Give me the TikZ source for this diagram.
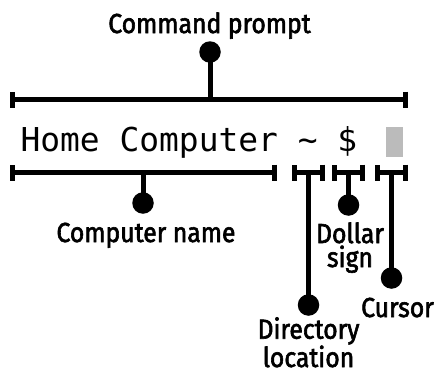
\documentclass[tikz,border=0pt]{standalone}
\usepackage{fontspec}
\setmainfont{Fira Sans}[FakeStretch=0.9, FakeBold=2.2]
\newfontfamily\promptfont{DejaVu Sans Mono}
\usetikzlibrary{arrows.meta}
\definecolor{cursorgray}{RGB}{187,187,187}
\begin{document}
\begin{tikzpicture}[x=1pt,y=-1pt, line width=5pt,
  brace/.style={draw, {Bar[width=16pt]}-{Bar[width=16pt]}},
  dot/.style={circle, fill=black, inner sep=0pt, minimum size=21.5pt},
  lbl/.style={inner sep=0pt, font=\fontsize{27.5}{24}\selectfont, align=center, anchor=base},
  stem/.style={draw}]
\useasboundingbox (0,0) rectangle (436,372);
% prompt text and cursor
\node[anchor=base west, inner sep=0pt, font=\promptfont\fontsize{32.9}{32.9}\selectfont] (prompt) at (18,151) {Home Computer \textasciitilde{} \$};
\node[fill=cursorgray, minimum width=17pt, minimum height=30pt, inner sep=0pt, anchor=north west] (cursor) at (383,124) {};
% top bracket
\coordinate (cpL) at (9.5,99.5);
\coordinate (cpR) at (407.5,99.5);
\coordinate (cpM) at (210,99.5);
\draw[brace] (cpL) -- (cpR);
\node[dot] (cpDot) at (210,52) {};
\draw[stem] (cpM) -- (cpDot.center);
\node[lbl] (cpLbl) at (209.5,33) {Command prompt};
% computer name
\coordinate (cnL) at (9.5,172.5);
\coordinate (cnR) at (277,172.5);
\coordinate (cnM) at (143,172.5);
\draw[brace] (cnL) -- (cnR);
\node[dot] (cnDot) at (143,203) {};
\draw[stem] (cnM) -- (cnDot.center);
\node[lbl] (cnLbl) at (146,242) {Computer name};
% directory
\coordinate (dlL) at (292,172.5);
\coordinate (dlR) at (325,172.5);
\coordinate (dlM) at (308.5,172.5);
\draw[brace] (dlL) -- (dlR);
\node[dot] (dlDot) at (308.5,305) {};
\draw[stem] (dlM) -- (dlDot.center);
\node[lbl] (dlLbl) at (308.5,367) {Directory\\location};
% dollar
\coordinate (dsL) at (332,172.5);
\coordinate (dsR) at (365,172.5);
\coordinate (dsM) at (348.5,172.5);
\draw[brace] (dsL) -- (dsR);
\node[dot] (dsDot) at (348.5,205) {};
\draw[stem] (dsM) -- (dsDot.center);
\node[lbl] (dsLbl) at (350,267) {Dollar\\sign};
% cursor
\coordinate (cuL) at (375,172.5);
\coordinate (cuR) at (408,172.5);
\coordinate (cuM) at (391.5,172.5);
\draw[brace] (cuL) -- (cuR);
\node[dot] (cuDot) at (391.5,278) {};
\draw[stem] (cuM) -- (cuDot.center);
\node[lbl] (cuLbl) at (397.5,317) {Cursor};
\end{tikzpicture}
\end{document}
